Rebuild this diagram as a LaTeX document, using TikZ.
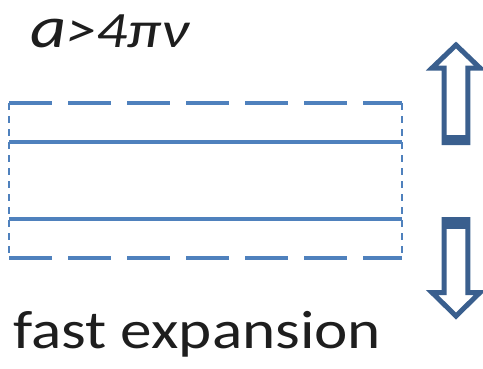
\documentclass[tikz,border=0pt]{standalone}
\usepackage{fontspec}
\setmainfont{Carlito}
\begin{document}
\begin{tikzpicture}[x=1pt,y=-1pt,
  wall/.style={draw=lineblue,line width=4.5pt},
  wallcut/.style={wall,dash pattern=on 43pt off 16pt},
  edge/.style={draw=lineblue,line width=1.6pt,dash pattern=on 7pt off 6pt},
  fatarrow/.style={draw=arrowblue,fill=white,line width=5pt,miter limit=10},
  capblock/.style={fill=arrowblue},
  label/.style={inner sep=0pt,anchor=base west,text=textgray}]
\definecolor{lineblue}{HTML}{4F81BD}
\definecolor{arrowblue}{HTML}{3A5F8E}
\definecolor{textgray}{HTML}{1E1E1E}
\useasboundingbox (0,0) rectangle (483,368);

% corners of the layer
\coordinate (tl) at (9,103);
\coordinate (tr) at (402,103);
\coordinate (bl) at (9,258);
\coordinate (br) at (402,258);
\coordinate (ml1) at (9,142);
\coordinate (mr1) at (402,142);
\coordinate (ml2) at (9,219);
\coordinate (mr2) at (402,219);

% thin dashed sides
\draw[edge] (tl) -- (bl);
\draw[edge] (tr) -- (br);
% dashed outer boundaries
\draw[wallcut] (tl) -- (tr);
\draw[wallcut] (bl) -- (br);
% solid inner walls
\draw[wall] (ml1) -- (mr1);
\draw[wall] (ml2) -- (mr2);

% upward block arrow
\draw[fatarrow] (456,45) -- (480,68) -- (467.8,68) -- (467.8,142.5)
  -- (444.2,142.5) -- (444.2,68) -- (432,68) -- cycle;
\fill[capblock] (441.7,135) rectangle (470.3,145);

% downward block arrow
\draw[fatarrow] (456,316) -- (480,292.5) -- (467.8,292.5) -- (467.8,219.5)
  -- (444.2,219.5) -- (444.2,292.5) -- (432,292.5) -- cycle;
\fill[capblock] (441.7,217) rectangle (470.3,229);

% labels
\node[label,font=\fontsize{51}{51}\selectfont\itshape] (cond) at (30,47)
  {\scalebox{1.2}[1]{\scalebox{1.15}{a}>4πν}};
\node[label,font=\fontsize{54}{54}\selectfont] (title) at (13,348)
  {\scalebox{1.17}[1]{fast expansion}};
\end{tikzpicture}
\end{document}
